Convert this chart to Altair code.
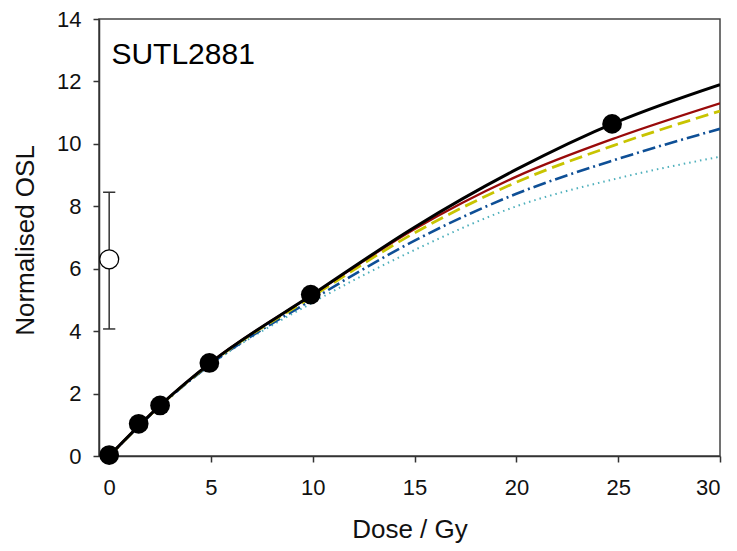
import altair as alt
import pandas as pd

# Measured data (dose in Gy, normalised OSL)
dose_pts = [0.0, 1.45, 2.5, 4.92, 9.9, 24.7]
osl_pts = [0.03, 1.03, 1.62, 2.98, 5.17, 10.64]

# Natural dose point with error bar
nat_dose = [0.0]
nat_osl = [6.3]
nat_lo = [4.07]
nat_hi = [8.45]

# Fitted curves
curve_x = [0, 2.5, 5, 10, 15, 20, 25, 30]
black = [0, 1.62, 3.0, 5.18, 7.33, 9.18, 10.72, 11.9]
red = [0, 1.62, 3.0, 5.17, 7.27, 8.95, 10.22, 11.3]
yellow = [0, 1.61, 2.98, 5.12, 7.15, 8.77, 10.0, 11.05]
blue = [0, 1.6, 2.95, 5.02, 6.9, 8.4, 9.52, 10.48]
teal = [0, 1.6, 2.93, 4.92, 6.6, 8.0, 8.9, 9.59]

label_text = ["SUTL2881"]
label_x = [0.11]
label_y = [12.56]

FONT = "Liberation Sans"

xscale = alt.Scale(domain=[-0.5, 30], nice=False, zero=False)
yscale = alt.Scale(domain=[0, 14], nice=False)

xaxis = alt.Axis(values=[0, 5, 10, 15, 20, 25, 30], title="Dose / Gy", grid=False,
                 labelFontSize=22, titleFontSize=26, labelPadding=15,
                 titleY=81, titleBaseline="alphabetic", titleFontWeight="normal")
yaxis = alt.Axis(values=[0, 2, 4, 6, 8, 10, 12, 14], title="Normalised OSL", grid=False,
                 labelFontSize=22, titleFontSize=26, labelPadding=12,
                 titleX=-66, titleY=221, titleBaseline="alphabetic", titleAlign="center",
                 titleFontWeight="normal")


def curve(vals, color, width, dash=None):
    df = pd.DataFrame({"x": curve_x, "y": vals})
    kw = dict(color=color, strokeWidth=width, interpolate="monotone", clip=True)
    if dash:
        kw["strokeDash"] = dash
    return alt.Chart(df).mark_line(**kw).encode(
        x=alt.X("x:Q", scale=xscale, axis=xaxis),
        y=alt.Y("y:Q", scale=yscale, axis=yaxis),
    )


teal_l = curve(teal, "#4FB0BC", 2, [1.5, 4])
blue_l = curve(blue, "#0E4F96", 2.6, [13, 4, 2, 4])
yellow_l = curve(yellow, "#C8C400", 2.8, [13, 6])
red_l = curve(red, "#990A0A", 2.3)
black_l = curve(black, "#000000", 3)

pts_df = pd.DataFrame({"x": dose_pts, "y": osl_pts})
pts = alt.Chart(pts_df).mark_point(filled=True, shape="circle", size=390,
                                   color="#000000", opacity=1).encode(
    x=alt.X("x:Q", scale=xscale, axis=xaxis),
    y=alt.Y("y:Q", scale=yscale, axis=yaxis),
)

nat_df = pd.DataFrame({"x": nat_dose, "y": nat_osl, "lo": nat_lo, "hi": nat_hi,
                       "xl": [d - 0.3 for d in nat_dose], "xr": [d + 0.3 for d in nat_dose]})
err = alt.Chart(nat_df).mark_rule(color="#333333", strokeWidth=1.5).encode(
    x=alt.X("x:Q", scale=xscale, axis=xaxis),
    y=alt.Y("lo:Q", scale=yscale, axis=yaxis),
    y2="hi:Q",
)
cap_hi = alt.Chart(nat_df).mark_rule(color="#333333", strokeWidth=1.5).encode(
    x=alt.X("xl:Q", scale=xscale, axis=xaxis), x2="xr:Q",
    y=alt.Y("hi:Q", scale=yscale, axis=yaxis),
)
cap_lo = alt.Chart(nat_df).mark_rule(color="#333333", strokeWidth=1.5).encode(
    x=alt.X("xl:Q", scale=xscale, axis=xaxis), x2="xr:Q",
    y=alt.Y("lo:Q", scale=yscale, axis=yaxis),
)
nat = alt.Chart(nat_df).mark_point(shape="circle", size=360, filled=True,
                                   fill="#ffffff", stroke="#000000", strokeWidth=1.3,
                                   opacity=1).encode(
    x=alt.X("x:Q", scale=xscale, axis=xaxis),
    y=alt.Y("y:Q", scale=yscale, axis=yaxis),
)

lab_df = pd.DataFrame({"t": label_text, "x": label_x, "y": label_y})
lab = alt.Chart(lab_df).mark_text(align="left", baseline="alphabetic", fontSize=30,
                                  font=FONT, color="#000000").encode(
    x=alt.X("x:Q", scale=xscale, axis=xaxis),
    y=alt.Y("y:Q", scale=yscale, axis=yaxis),
    text="t:N",
)

chart = alt.layer(teal_l, blue_l, yellow_l, red_l, black_l, err, cap_hi, cap_lo, nat, pts, lab).properties(
    width=621, height=437,
    autosize=alt.AutoSizeParams(type="none"),
    padding={"left": 91, "top": 11, "right": 5, "bottom": 87},
).configure_view(
    stroke="#444444", strokeWidth=1.5,
).configure_axis(
    domainColor="#333333", domainWidth=1.5, tickColor="#333333", tickWidth=1.5,
    tickSize=6, labelColor="#111111", titleColor="#111111",
    labelFont=FONT, titleFont=FONT,
)

chart.save("out.html", embed_options={"renderer": "svg", "actions": False})
